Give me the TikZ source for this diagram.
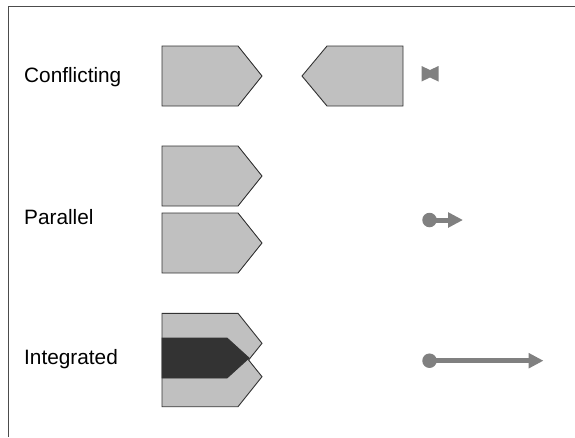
\documentclass[tikz,border=0pt]{standalone}
\usepackage{fontspec}
\setmainfont{Liberation Sans}
\usetikzlibrary{arrows.meta}
\definecolor{lightfill}{HTML}{C0C0C0}
\definecolor{darkfill}{HTML}{333333}
\definecolor{edgecol}{HTML}{333333}
\definecolor{symcol}{HTML}{808080}
\begin{document}
\begin{tikzpicture}[x=1pt,y=-1pt,
  lbl/.style={anchor=west,inner sep=0pt,font=\fontsize{20.8}{24}\selectfont},
  lightshape/.style={fill=lightfill,draw=edgecol,line width=0.9pt,line join=miter},
  darkshape/.style={fill=darkfill,draw=edgecol,line width=0.9pt},
  dotnode/.style={circle,fill=symcol,inner sep=0pt,minimum size=14.5pt},
  legendarrow/.style={draw=symcol,line width=5pt,-{Triangle[length=15pt,width=14.6pt]}},
  frameline/.style={draw=black!70,line width=1pt}]
\useasboundingbox (0,0) rectangle (575,437);
% frame
\draw[frameline] (8,437) -- (8,6.5) -- (575,6.5);
% labels
\node[lbl] (lc) at (24,77) {Conflicting};
\node[lbl] (lp) at (24,217) {Parallel};
\node[lbl] (li) at (24,359) {Integrated};
% conflicting
\path[lightshape] (162,46) -- (238,46) -- (262,76) -- (238,106) -- (162,106) -- cycle;
\path[lightshape] (403,46) -- (327,46) -- (302,76) -- (327,106) -- (403,106) -- cycle;
\path[fill=symcol] (421.5,66) -- (430,70) -- (438.5,66) -- (438.5,81.5) -- (430,77.5) -- (421.5,81.5) -- cycle;
% parallel
\path[lightshape] (162,146) -- (238,146) -- (262,176) -- (238,206) -- (162,206) -- cycle;
\path[lightshape] (162,213) -- (238,213) -- (262,243) -- (238,273) -- (162,273) -- cycle;
\node[dotnode] (pd) at (429.5,220) {};
\coordinate (pe) at (463,220);
\draw[legendarrow] (pd.center) -- (pe);
% integrated
\path[lightshape] (162,313.3) -- (238,313.3) -- (262,343.3) -- (248.6,360) -- (262,376.7) -- (238,406.7) -- (162,406.7) -- cycle;
\path[darkshape] (162,338) -- (227,338) -- (249,358) -- (227,378) -- (162,378) -- cycle;
\node[dotnode] (id) at (429.5,360.7) {};
\coordinate (ie) at (543.5,360.7);
\draw[legendarrow] (id.center) -- (ie);
\end{tikzpicture}
\end{document}
